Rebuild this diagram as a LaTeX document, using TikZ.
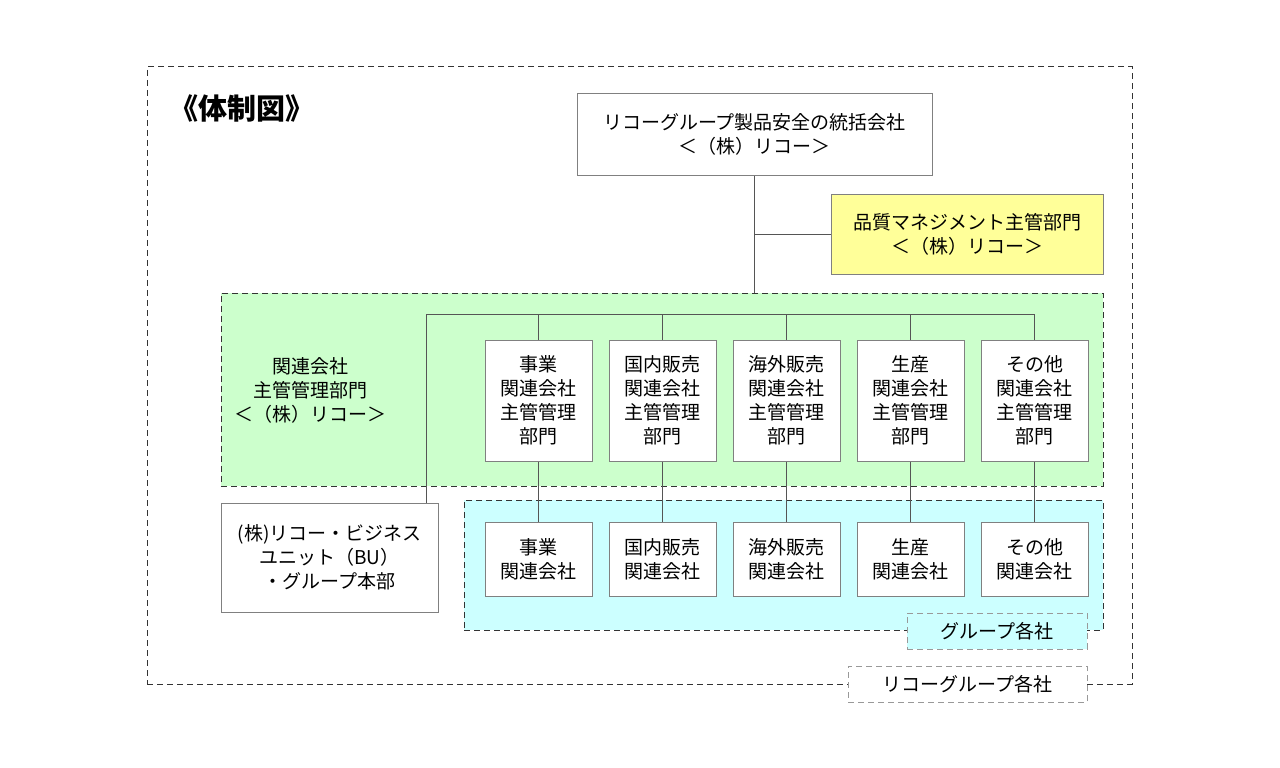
\documentclass[tikz,border=0pt]{standalone}
\usepackage{fontspec}
\setmainfont{Noto Sans CJK JP}
\definecolor{grn}{HTML}{CCFFCC}
\definecolor{cyn}{HTML}{CCFFFF}
\definecolor{ylw}{HTML}{FFFF99}
\definecolor{bord}{HTML}{808080}
\definecolor{conn}{HTML}{555555}
\definecolor{dashc}{HTML}{333333}
\definecolor{lbl}{HTML}{999999}
\tikzset{
  txt/.style={font=\fontsize{19}{24}\selectfont, align=center, inner sep=0pt, text=black},
  box/.style={txt, draw=bord, line width=1pt, fill=white, rectangle},
  grpbox/.style={draw=dashc, line width=1pt, dash pattern=on 6pt off 4pt, rectangle, inner sep=0pt},
  lblbox/.style={txt, draw=lbl, line width=1pt, dash pattern=on 6pt off 4pt, rectangle},
  con/.style={draw=conn, line width=1pt},
}
\begin{document}
\begin{tikzpicture}[x=1pt,y=-1pt]
\useasboundingbox (0,0) rectangle (1280,768);
% outer box
\node[grpbox, minimum width=985pt, minimum height=617pt] (outer) at (639.5,375.5) {};
% title
\node[inner sep=0pt, font=\fontsize{29}{32}\selectfont\bfseries] (title) at (242,108) {《体制図》};
% top box
\node[box, minimum width=355pt, minimum height=82pt] (top) at (754.5,134) {リコーグループ製品安全の統括会社\\＜（株）リコー＞};
% yellow box
\node[box, fill=ylw, minimum width=272pt, minimum height=80pt] (yel) at (967,234) {品質マネジメント主管部門\\＜（株）リコー＞};
% green group
\node[grpbox, fill=grn, minimum width=882pt, minimum height=193pt] (grp) at (662,389.5) {};
\node[txt] (grplbl) at (310,390) {関連会社\\主管管理部門\\＜（株）リコー＞};
% cyan group
\node[grpbox, fill=cyn, minimum width=639pt, minimum height=130pt] (cgrp) at (783.5,565) {};
% BU box
\node[box, minimum width=217pt, minimum height=109pt] (bu) at (329.5,557.5) {(株)リコー・ビジネス\\ユニット（BU）\\・グループ本部};
% column boxes
\foreach \i/\x/\t/\s in {1/538.5/事業/事業, 2/662.5/国内販売/国内販売, 3/786.5/海外販売/海外販売, 4/910.5/生産/生産, 5/1034.5/その他/その他}{
  \node[box, minimum width=107pt, minimum height=121pt] (c\i) at (\x,400.5) {\t\\関連会社\\主管管理\\部門};
  \node[box, minimum width=107pt, minimum height=74pt] (d\i) at (\x,559) {\s\\関連会社};
}
% connectors
\draw[con] (top.south) -- (top.south |- grp.north);
\draw[con] (top.south |- yel.west) -- (yel.west);
\coordinate (busL) at (426,314);
\draw[con] (busL |- bu.north) -- (busL) -- (busL -| c5.north);
\foreach \i in {1,...,5}{
  \draw[con] (c\i.north |- busL) -- (c\i.north);
  \draw[con] (c\i.south) -- (d\i.north);
}
% labels
\node[lblbox, fill=cyn, minimum width=180pt, minimum height=36pt] (glbl) at (997,631) {グループ各社};
\node[lblbox, fill=white, minimum width=239pt, minimum height=36pt] (rlbl) at (967.5,684) {リコーグループ各社};
\end{tikzpicture}
\end{document}
